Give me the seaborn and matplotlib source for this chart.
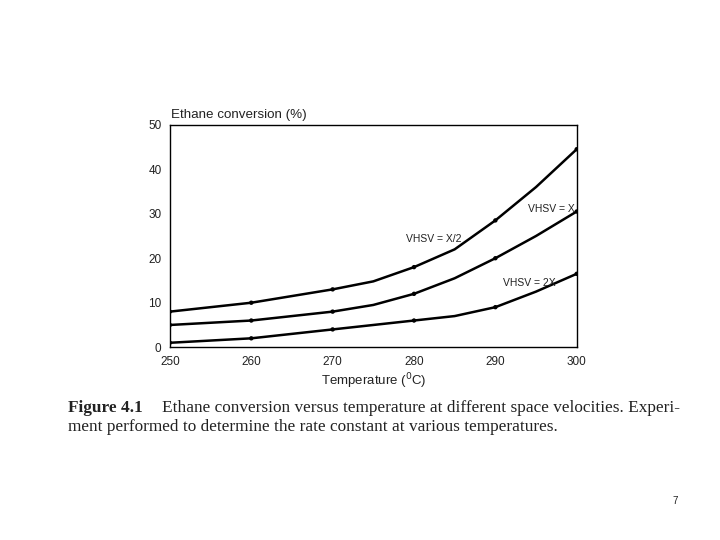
import numpy as np
import pandas as pd
import matplotlib
matplotlib.use("Agg")
import matplotlib.pyplot as plt
import seaborn as sns

# values
temperature = [250, 255, 260, 265, 270, 275, 280, 285, 290, 295, 300]
vhsv_half = [8, 9, 10, 11.5, 13, 14.8, 18, 22, 28.5, 36, 44.5]
vhsv_x = [5, 5.5, 6, 7, 8, 9.5, 12, 15.5, 20, 25, 30.5]
vhsv_2x = [1, 1.5, 2, 3, 4, 5, 6, 7, 9, 12.5, 16.5]
series_names = ["VHSV = X/2", "VHSV = X", "VHSV = 2X"]

df = pd.DataFrame({
    "Temperature": temperature * 3,
    "Conversion": vhsv_half + vhsv_x + vhsv_2x,
    "Series": np.repeat(series_names, len(temperature)),
})

sns.set_style("white")
plt.rcParams['font.family'] = ['Liberation Sans', 'DejaVu Sans']

fig = plt.figure(figsize=(7.2, 5.4), dpi=100)
ax = fig.add_axes([0.236, 0.357, 0.565, 0.412])

sns.lineplot(data=df, x="Temperature", y="Conversion", units="Series",
             estimator=None, color="black", linewidth=1.8, ax=ax)
dots = df[df["Temperature"] % 10 == 0]
sns.scatterplot(data=dots, x="Temperature", y="Conversion", color="black",
                s=10, edgecolor="none", ax=ax, zorder=3)

ax.set_xlim(250, 300)
ax.set_ylim(0, 50)
ax.set_xticks(range(250, 301, 10))
ax.set_xticks(range(255, 300, 10), minor=True)
ax.set_yticks(range(0, 51, 10))
ax.tick_params(axis="both", which="both", direction="in", labelsize=8.5,
               color="black", labelcolor="#222222", pad=6)
ax.tick_params(axis="x", which="major", length=6, width=1.2, top=False)
ax.tick_params(axis="x", which="minor", length=3, width=1.2)
ax.tick_params(axis="y", which="major", length=5, width=1)
for sp in ax.spines.values():
    sp.set_color("black")
    sp.set_linewidth(1)

ax.set_xlabel("Temperature ($^{0}$C)", fontsize=9.5, color="#222222", labelpad=3)
ax.set_ylabel("")
ax.text(0.003, 1.015, "Ethane conversion (%)", transform=ax.transAxes,
        fontsize=9.6, color="#222222", ha="left", va="bottom")

ax.text(294.0, 31, "VHSV = X", fontsize=7.5, color="#222222", va="center")
ax.text(279.0, 24.3, "VHSV = X/2", fontsize=7.5, color="#222222", va="center")
ax.text(291.0, 14.5, "VHSV = 2X", fontsize=7.5, color="#222222", va="center")

cap = dict(fontsize=12.4, family="Liberation Serif", va="center", color="#222222")
fig.text(0.094, 0.245, "Figure 4.1", fontweight="bold", **cap)
fig.text(0.225, 0.245, "Ethane conversion versus temperature at different space velocities. Experi-", **cap)
fig.text(0.094, 0.209, "ment performed to determine the rate constant at various temperatures.", **cap)
fig.text(0.934, 0.072, "7", fontsize=7, va="center", color="#222222")

fig.savefig("out.png", dpi=100)
